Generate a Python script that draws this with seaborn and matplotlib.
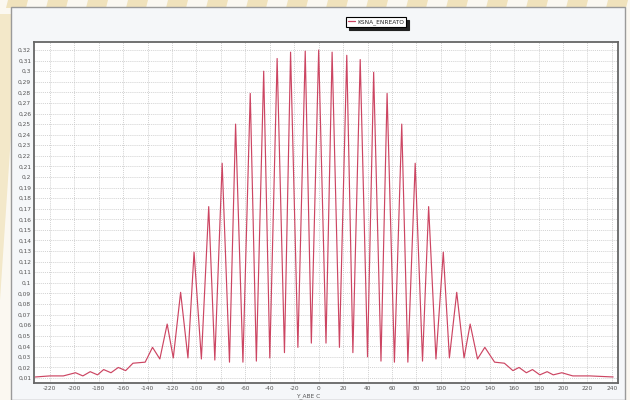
import numpy as np
import pandas as pd
import matplotlib
matplotlib.use("Agg")
import matplotlib.pyplot as plt
from matplotlib.patches import Polygon, Rectangle
from matplotlib.lines import Line2D
import seaborn as sns

# ---------------- data ----------------
series_name = "KSNA_ENREATO"
x_label = "Y_ABE C"

left_tail_x = [-232, -220, -209, -199, -193, -187, -181, -176, -170, -164, -158, -152, -142]
left_tail_y = [0.011, 0.012, 0.012, 0.015, 0.012, 0.016, 0.013, 0.018, 0.015, 0.020, 0.017, 0.024, 0.025]

peaks_x = [-136, -124, -113, -102, -90, -79, -68, -56, -45, -34, -23, -11, 0,
           11, 23, 34, 45, 56, 68, 79, 90, 102, 113, 124, 136]
peaks_y = [0.039, 0.061, 0.091, 0.129, 0.172, 0.213, 0.250, 0.279, 0.300, 0.312, 0.318, 0.319, 0.320,
           0.318, 0.315, 0.311, 0.299, 0.279, 0.250, 0.213, 0.172, 0.129, 0.091, 0.061, 0.039]

troughs_x = [-130, -119, -107, -96, -85, -73, -62, -51, -40, -28, -17, -6,
             6, 17, 28, 40, 51, 62, 73, 85, 96, 107, 119, 130]
troughs_y = [0.028, 0.029, 0.029, 0.028, 0.027, 0.025, 0.025, 0.026, 0.029, 0.034, 0.039, 0.043,
             0.043, 0.039, 0.034, 0.030, 0.026, 0.025, 0.025, 0.026, 0.028, 0.029, 0.029, 0.028]

right_tail_x = [144, 152, 159, 164, 170, 175, 181, 187, 192, 199, 208, 222, 241]
right_tail_y = [0.025, 0.024, 0.017, 0.020, 0.015, 0.018, 0.013, 0.016, 0.013, 0.015, 0.012, 0.012, 0.011]

x_tick_labels = ["-220", "-200", "-180", "-160", "-140", "-120", "-100", "-80", "-60", "-40", "-20",
                 "0", "20", "40", "60", "80", "100", "120", "140", "160", "180", "200", "220", "240"]
y_tick_labels = ["0,01", "0,02", "0,03", "0,04", "0,05", "0,06", "0,07", "0,08", "0,09", "0,1",
                 "0,11", "0,12", "0,13", "0,14", "0,15", "0,16", "0,17", "0,18", "0,19", "0,2",
                 "0,21", "0,22", "0,23", "0,24", "0,25", "0,26", "0,27", "0,28", "0,29", "0,3",
                 "0,31", "0,32"]

df = pd.DataFrame({
    "x": left_tail_x + peaks_x + troughs_x + right_tail_x,
    "y": left_tail_y + peaks_y + troughs_y + right_tail_y,
}).sort_values("x").reset_index(drop=True)
df["series"] = series_name

# ---------------- figure ----------------
sns.set_theme(style="white")
plt.rcParams["font.family"] = ["DejaVu Sans"]

W, H = 630, 400
LINE_COLOR = "#cc4562"
fig = plt.figure(figsize=(6.3, 4.0), dpi=100)
fig.patch.set_facecolor("#fbf8f1")

def px(x, y):
    return (x / W, 1 - y / H)

cream = "#f0e2bc"
# top stripes of the background
for x0 in range(8, 640, 40):
    fig.patches.append(Polygon([px(x0, 0), px(x0 + 20, 0), px(x0 + 18, 8), px(x0 - 2, 8)],
                               closed=True, transform=fig.transFigure,
                               facecolor=cream, edgecolor="none", zorder=-3))
# left pale band
fig.patches.append(Polygon([px(0, 14), px(12, 14), px(12, 120), px(0, 300)],
                           closed=True, transform=fig.transFigure,
                           facecolor="#f3e8c9", edgecolor="none", zorder=-3))
# chart panel
fig.patches.append(Rectangle(px(11, 400), 614 / W, 393 / H, transform=fig.transFigure,
                             facecolor="#f5f7f9", edgecolor="#9a9a9a", linewidth=1.0, zorder=-2))

ax = fig.add_axes([34 / W, 1 - 383 / H, (618 - 34) / W, (383 - 42) / H])
ax.set_zorder(2)
ax.set_facecolor("white")

sns.lineplot(data=df, x="x", y="y", hue="series", palette=[LINE_COLOR], estimator=None,
             linewidth=0.85, ax=ax, legend=False)

x_ticks = [float(t) for t in x_tick_labels]
y_ticks = [float(t.replace(",", ".")) for t in y_tick_labels]
ax.set_xticks(x_ticks)
ax.set_xticklabels(x_tick_labels, fontsize=4.2, color="#555555")
ax.set_yticks(y_ticks)
ax.set_yticklabels(y_tick_labels, fontsize=4.2, color="#555555")
ax.set_xlim(-233, 245)
ax.set_ylim(0.0053, 0.3276)
ax.tick_params(axis="both", length=0, pad=2)
ax.set_xlabel("")
ax.set_ylabel("")

ax.grid(True, which="major", linestyle=(0, (1.5, 1.5)), color="#c2c2c2", linewidth=0.5)
ax.set_axisbelow(True)
for s in ax.spines.values():
    s.set_color("#666666")
    s.set_linewidth(1.3)

fig.text(308 / W, 1 - 396 / H, x_label, fontsize=4.2, color="#555555",
         ha="center", va="center", zorder=3)

handle = Line2D([], [], color=LINE_COLOR, linewidth=0.9)
leg = fig.legend([handle], [series_name], loc="center", bbox_to_anchor=(376 / W, 1 - 22 / H),
                 fontsize=4.2, frameon=True, fancybox=False,
                 shadow={"color": "#222222", "alpha": 1.0, "ox": 2, "oy": -2},
                 handlelength=1.2, handletextpad=0.4, borderpad=0.35)
leg.get_frame().set_edgecolor("black")
leg.get_frame().set_linewidth(0.8)

fig.savefig("out.png", dpi=100)
